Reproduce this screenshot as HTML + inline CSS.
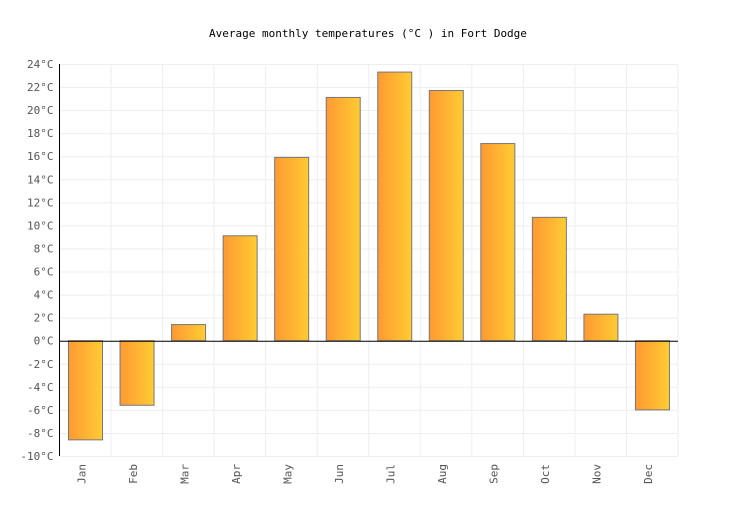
<!DOCTYPE html>
<html><head><meta charset="utf-8"><style>
body{margin:0;background:#fff}
svg text{font-family:"DejaVu Sans Mono","Liberation Mono",monospace;font-size:11px;fill:#555}
</style></head><body>
<svg width="736" height="500" xmlns="http://www.w3.org/2000/svg">
<defs><linearGradient id="g" x1="0" x2="1" y1="0" y2="0"><stop offset="0" stop-color="#ff9933"/><stop offset="1" stop-color="#ffcc33"/></linearGradient></defs>
<text x="368" y="37" text-anchor="middle" style="fill:#000">Average monthly temperatures (°C ) in Fort Dodge</text>
<g id="grid"></g><g id="bars"></g><g id="axes"></g>
</svg>
<script>
const categories=["Jan","Feb","Mar","Apr","May","Jun","Jul","Aug","Sep","Oct","Nov","Dec"];
const temps=[-8.6,-5.6,1.4,9.1,15.9,21.1,23.3,21.7,17.1,10.7,2.3,-6.0];
const yTicks=[-10,-8,-6,-4,-2,0,2,4,6,8,10,12,14,16,18,20,22,24];
const NS="http://www.w3.org/2000/svg";
const L=59.5,R=678,T=64,B=456,yMin=-10,yMax=24;
const y=v=>B-(v-yMin)/(yMax-yMin)*(B-T);
const cw=(R-L)/categories.length;
const x=i=>L+i*cw;
function mk(t,a,p){const e=document.createElementNS(NS,t);for(const k in a)e.setAttribute(k,a[k]);p.appendChild(e);return e;}
const grid=document.getElementById('grid'),bars=document.getElementById('bars'),axes=document.getElementById('axes');
yTicks.forEach(v=>{
 const l=mk('line',{x1:L,x2:R,y1:y(v)+.5,y2:y(v)+.5,stroke:'#eee'},grid);
 
 
 const t=mk('text',{x:L-6,y:y(v)+4,'text-anchor':'end'},axes);
 t.textContent=v+'°C';
 
 
});
categories.forEach((c,i)=>{
 const gl=mk('line',{x1:x(i+1),x2:x(i+1),y1:T,y2:B,stroke:'#eee'},grid);
 
 
 const v=temps[i],y0=y(0),y1=y(v);
 const r=mk('rect',{x:x(i)+9,y:Math.min(y0,y1),width:34,height:Math.abs(y1-y0),fill:'url(#g)',stroke:'#777','stroke-width':1},bars);
 
 
 const cx=x(i)+cw/2-4;
 const t=mk('text',{x:0,y:0,'text-anchor':'end',transform:`translate(${cx+4},${B+8}) rotate(-90)`},axes);
 t.textContent=c;
 
 
});
const ya=mk('line',{x1:L,x2:L,y1:T,y2:B,stroke:'#000'},axes);


const za=mk('line',{x1:L,x2:R,y1:y(0)+.5,y2:y(0)+.5,stroke:'#000'},axes);


</script>
</body></html>
